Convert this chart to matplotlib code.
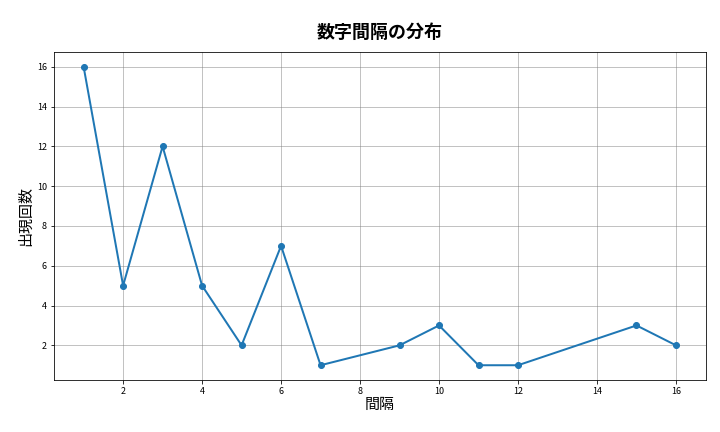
import matplotlib
matplotlib.use("Agg")
import matplotlib.pyplot as plt

plt.rcParams['font.family'] = ['Noto Sans CJK JP', 'DejaVu Sans']

intervals = [1, 2, 3, 4, 5, 6, 7, 9, 10, 11, 12, 15, 16]
counts = [16, 5, 12, 5, 2, 7, 1, 2, 3, 1, 1, 3, 2]

fig, ax = plt.subplots(figsize=(10, 6), dpi=72)
ax.plot(intervals, counts, marker='o', color='#1f77b4', linewidth=2, markersize=6)
ax.set_title('数字間隔の分布', fontsize=18, fontweight='bold', pad=14)
ax.set_xlabel('間隔', fontsize=15, labelpad=2)
ax.set_ylabel('出現回数', fontsize=15, labelpad=4)
ax.set_xticks([2, 4, 6, 8, 10, 12, 14, 16])
ax.set_yticks([2, 4, 6, 8, 10, 12, 14, 16])
ax.tick_params(labelsize=9)
ax.grid(True, color='gray', alpha=0.6, linewidth=0.8)
fig.subplots_adjust(left=0.075, right=0.98, top=0.88, bottom=0.12)
fig.savefig('out.png', dpi=72)
